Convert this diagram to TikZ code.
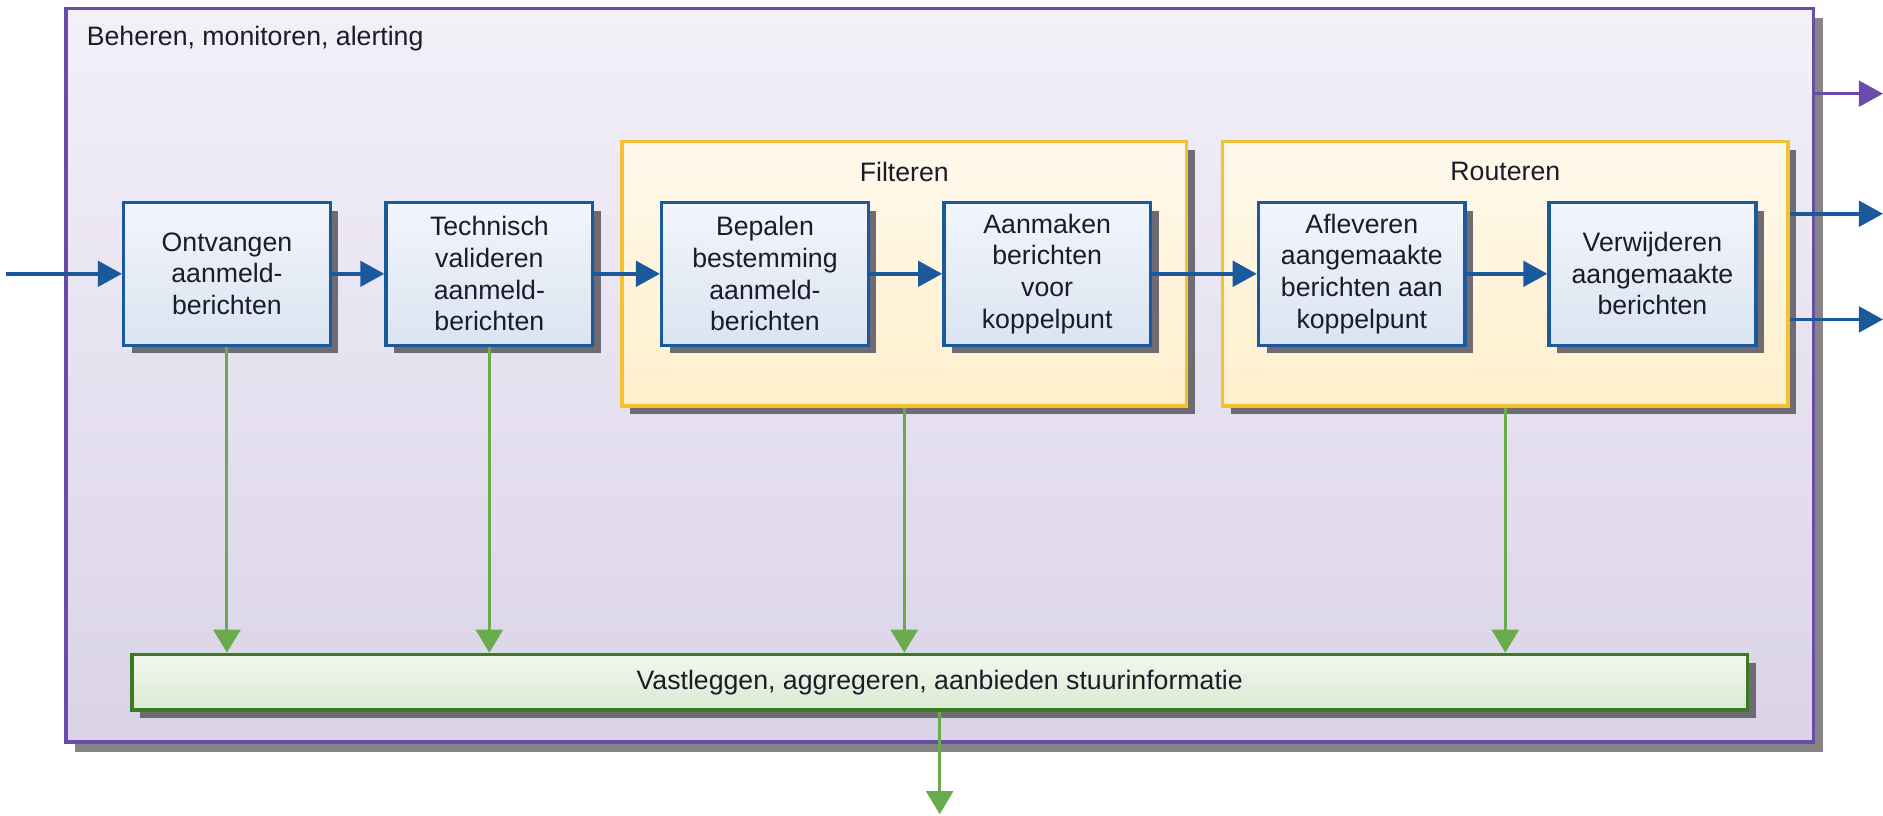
\documentclass[tikz,border=0pt]{standalone}
\usepackage{fontspec}
\setmainfont{Liberation Sans}
\usepackage{tikz}
\usetikzlibrary{arrows.meta, shadows}

\definecolor{lavtop}{HTML}{F3F0F8}
\definecolor{lavbot}{HTML}{DAD3E8}
\definecolor{paars}{HTML}{6A4CA8}
\definecolor{boxtop}{HTML}{F2F5FB}
\definecolor{boxbot}{HTML}{DAE4F1}
\definecolor{blauw}{HTML}{1A5A9C}
\definecolor{geeltop}{HTML}{FFF9EC}
\definecolor{geelbot}{HTML}{FFF0CC}
\definecolor{geelrand}{HTML}{F2C232}
\definecolor{groentop}{HTML}{F1F7EE}
\definecolor{groenbot}{HTML}{DAEAD2}
\definecolor{groenrand}{HTML}{3B7A22}
\definecolor{groenpijl}{HTML}{6AAC4C}
\definecolor{schaduw}{HTML}{6E6C72}
\definecolor{tekst}{HTML}{1B1B2A}

\begin{document}
\begin{tikzpicture}[x=0.025cm, y=-0.025cm,
    font=\fontsize{15.8}{18.7}\selectfont,
    text=tekst,
    stap/.style={
      rectangle,
      draw=blauw,
      line width=2.1pt,
      top color=boxtop,
      bottom color=boxbot,
      minimum width=4.3cm,
      minimum height=2.975cm,
      inner sep=0pt,
      align=center,
      drop shadow={shadow xshift=0.17cm, shadow yshift=-0.17cm,
        fill=schaduw, opacity=1}
    },
    groep/.style={
      rectangle,
      draw=geelrand,
      line width=2.1pt,
      top color=geeltop,
      bottom color=geelbot,
      minimum width=11.75cm,
      minimum height=5.5cm,
      inner sep=0pt,
      drop shadow={shadow xshift=0.17cm, shadow yshift=-0.17cm,
        fill=schaduw, opacity=1}
    },
    label/.style={inner sep=0pt},
    blauwpijl/.style={draw=blauw, line width=2.1pt,
      -{Triangle[length=0.5cm, width=0.53cm]}},
    groenpijl/.style={draw=groenpijl, line width=1.8pt,
      -{Triangle[length=0.48cm, width=0.56cm]}},
    paarspijl/.style={draw=paars, line width=2.1pt,
      -{Triangle[length=0.5cm, width=0.53cm]}}]
  \useasboundingbox (0,0) rectangle (1568,679);

  \node[rectangle, draw=paars, line width=2.1pt, top color=lavtop,
    bottom color=lavbot, minimum width=36.375cm, minimum height=15.275cm,
    inner sep=0pt, drop shadow={shadow xshift=0.2cm, shadow yshift=-0.2cm,
      fill=black!48, opacity=1}] (beheer) at (782.5,312.5) {};
  \node[label, anchor=west] (titel) at (72,32) {Beheren, monitoren, alerting};

  \node[groep] (filter) at (753,228) {};
  \node[groep, minimum width=11.775cm] (route) at (1253.5,228) {};
  \node[label] (filtertxt) at (753,143) {Filteren};
  \node[label] (routetxt) at (1253.5,143) {Routeren};

  \node[stap] (ontv) at (189,228) {Ontvangen\\aanmeld-\\berichten};
  \node[stap] (techn) at (407.5,228) {Technisch\\valideren\\aanmeld-\\berichten};
  \node[stap] (bepaal) at (637,228) {Bepalen\\bestemming\\aanmeld-\\berichten};
  \node[stap] (aanmaak) at (872,228) {Aanmaken\\berichten\\voor\\koppelpunt};
  \node[stap] (aflever) at (1134,228) {Afleveren\\aangemaakte\\berichten aan\\koppelpunt};
  \node[stap] (verwijder) at (1376,228) {Verwijderen\\aangemaakte\\berichten};

  \node[rectangle, draw=groenrand, line width=2.1pt, top color=groentop,
    bottom color=groenbot, minimum width=33.625cm, minimum height=1.15cm,
    inner sep=0pt, drop shadow={shadow xshift=0.17cm, shadow yshift=-0.17cm,
      fill=schaduw, opacity=1}] (vast) at (782.5,568)
    {Vastleggen, aggregeren, aanbieden stuurinformatie};

  \coordinate (in) at (5,228);
  \coordinate (uit0) at (1568,78);
  \coordinate (uit1) at (1568,178);
  \coordinate (uit2) at (1568,266);
  \coordinate (uit3) at (782.5,678);

  \draw[blauwpijl] (in) -- (ontv);
  \draw[blauwpijl] (ontv) -- (techn);
  \draw[blauwpijl] (techn) -- (bepaal);
  \draw[blauwpijl] (bepaal) -- (aanmaak);
  \draw[blauwpijl] (aanmaak) -- (aflever);
  \draw[blauwpijl] (aflever) -- (verwijder);
  \draw[blauwpijl] (route.east |- uit1) -- (uit1);
  \draw[blauwpijl] (route.east |- uit2) -- (uit2);
  \draw[paarspijl] (beheer.east |- uit0) -- (uit0);

  \draw[groenpijl] (ontv.south) -- (ontv.south |- vast.north);
  \draw[groenpijl] (techn.south) -- (techn.south |- vast.north);
  \draw[groenpijl] (filter.south) -- (filter.south |- vast.north);
  \draw[groenpijl] (route.south) -- (route.south |- vast.north);
  \draw[groenpijl] (vast.south) -- (uit3);
\end{tikzpicture}
\end{document}
